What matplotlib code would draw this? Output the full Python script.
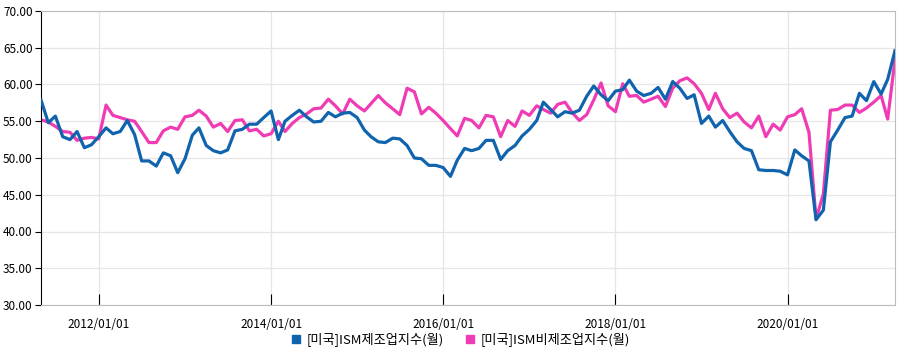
import matplotlib
matplotlib.use("Agg")
import matplotlib.pyplot as plt
import matplotlib.dates as mdates
from matplotlib.lines import Line2D
import pandas as pd

plt.rcParams['font.family'] = ['Noto Sans CJK KR', 'DejaVu Sans']

# ==============================
# Data (monthly, plotted at release date)
# ==============================
start_date = "2011-05-01"
n_months = 120

manufacturing = [
    57.9, 54.8, 55.7, 52.9, 52.5, 53.6, 51.4, 51.8, 52.9, 54.1,
    53.3, 53.6, 55.1, 53.2, 49.6, 49.6, 48.9, 50.7, 50.3, 48.0,
    49.9, 53.1, 54.1, 51.7, 51.0, 50.7, 51.1, 53.7, 53.9, 54.6,
    54.6, 55.5, 56.4, 52.5, 55.0, 55.8, 56.5, 55.6, 54.9, 55.0,
    56.2, 55.6, 56.1, 56.2, 55.5, 53.8, 52.9, 52.2, 52.1, 52.7,
    52.6, 51.7, 50.0, 49.9, 49.0, 49.0, 48.7, 47.5, 49.7, 51.3,
    51.0, 51.3, 52.4, 52.4, 49.8, 51.0, 51.7, 53.0, 53.9, 55.1,
    57.6, 56.6, 55.6, 56.3, 56.1, 56.5, 58.4, 59.8, 58.6, 57.8,
    59.1, 59.3, 60.6, 59.1, 58.5, 58.8, 59.6, 58.0, 60.4, 59.5,
    58.1, 58.6, 54.7, 55.7, 54.2, 55.1, 53.6, 52.2, 51.3, 51.0,
    48.4, 48.3, 48.3, 48.2, 47.7, 51.1, 50.3, 49.6, 41.6, 42.9,
    52.2, 53.8, 55.5, 55.7, 58.8, 57.8, 60.4, 58.7, 60.7, 64.6,
]

non_manufacturing = [
    55.2, 54.9, 54.3, 53.6, 53.5, 52.4, 52.7, 52.8, 52.6, 57.2,
    55.8, 55.5, 55.2, 55.0, 53.6, 52.1, 52.1, 53.7, 54.2, 53.9,
    55.6, 55.8, 56.5, 55.7, 54.2, 54.7, 53.6, 55.1, 55.2, 53.7,
    53.9, 53.0, 53.3, 55.0, 53.6, 54.7, 55.5, 56.0, 56.7, 56.8,
    58.0, 57.1, 56.0, 58.0, 57.1, 56.4, 57.4, 58.5, 57.5, 56.7,
    55.9, 59.5, 59.0, 56.0, 56.9, 56.1, 55.1, 54.0, 53.0, 55.4,
    55.1, 54.1, 55.8, 55.6, 52.9, 55.1, 54.3, 56.4, 55.8, 57.1,
    56.6, 56.1, 57.3, 57.6, 56.2, 55.1, 55.9, 57.9, 60.2, 57.1,
    56.3, 60.1, 58.4, 58.5, 57.6, 58.0, 58.4, 57.0, 59.5, 60.5,
    60.9, 60.1, 58.8, 56.6, 58.8, 56.7, 55.5, 56.1, 54.9, 54.1,
    55.7, 52.9, 54.6, 53.8, 55.6, 55.9, 56.7, 53.5, 41.7, 45.1,
    56.5, 56.6, 57.2, 57.2, 56.2, 56.8, 57.6, 58.5, 55.3, 63.4,
]

series_names = ["[미국]ISM제조업지수(월)", "[미국]ISM비제조업지수(월)"]
series_colors = ["#1064ae", "#f03cb4"]

dates = pd.date_range(start_date, periods=n_months, freq="MS")

# ==============================
# Plot
# ==============================
fig = plt.figure(figsize=(9.04, 3.51), dpi=100)
ax = fig.add_axes([41 / 904, 1 - 305 / 351, (895 - 41) / 904, (305 - 11) / 351])

ax.plot(dates, manufacturing, color=series_colors[0], lw=2.3, zorder=3)
ax.plot(dates, non_manufacturing, color=series_colors[1], lw=2.3, zorder=2)

ax.set_xlim(dates[0], dates[-1])
ax.set_ylim(30, 70)
ax.set_yticks(range(30, 71, 5))
ax.yaxis.set_major_formatter(plt.FuncFormatter(lambda v, p: f"{v:.2f}"))

ax.xaxis.set_major_locator(mdates.YearLocator(2, month=1, day=1))
ax.xaxis.set_major_formatter(mdates.DateFormatter("%Y/%m/%d"))

ax.grid(True, color="#e6e6e6", lw=0.9)
ax.set_axisbelow(True)

for side in ["top", "right", "bottom"]:
    ax.spines[side].set_color("#bdbdbd")
ax.spines["left"].set_color("black")

ax.tick_params(axis="y", direction="out", length=4, color="black", labelsize=8.5, pad=2)
ax.tick_params(axis="x", direction="in", length=8, color="black", labelsize=8.5, pad=9)

handles = [Line2D([], [], ls="", marker="s", markersize=6, color=c) for c in series_colors]
fig.legend(handles, series_names, loc="lower center", bbox_to_anchor=(0.509, -0.02),
           ncol=2, frameon=False, fontsize=9.5, handlelength=0.8, handletextpad=0.4,
           columnspacing=1.6)

plt.savefig("out.png", dpi=100)
